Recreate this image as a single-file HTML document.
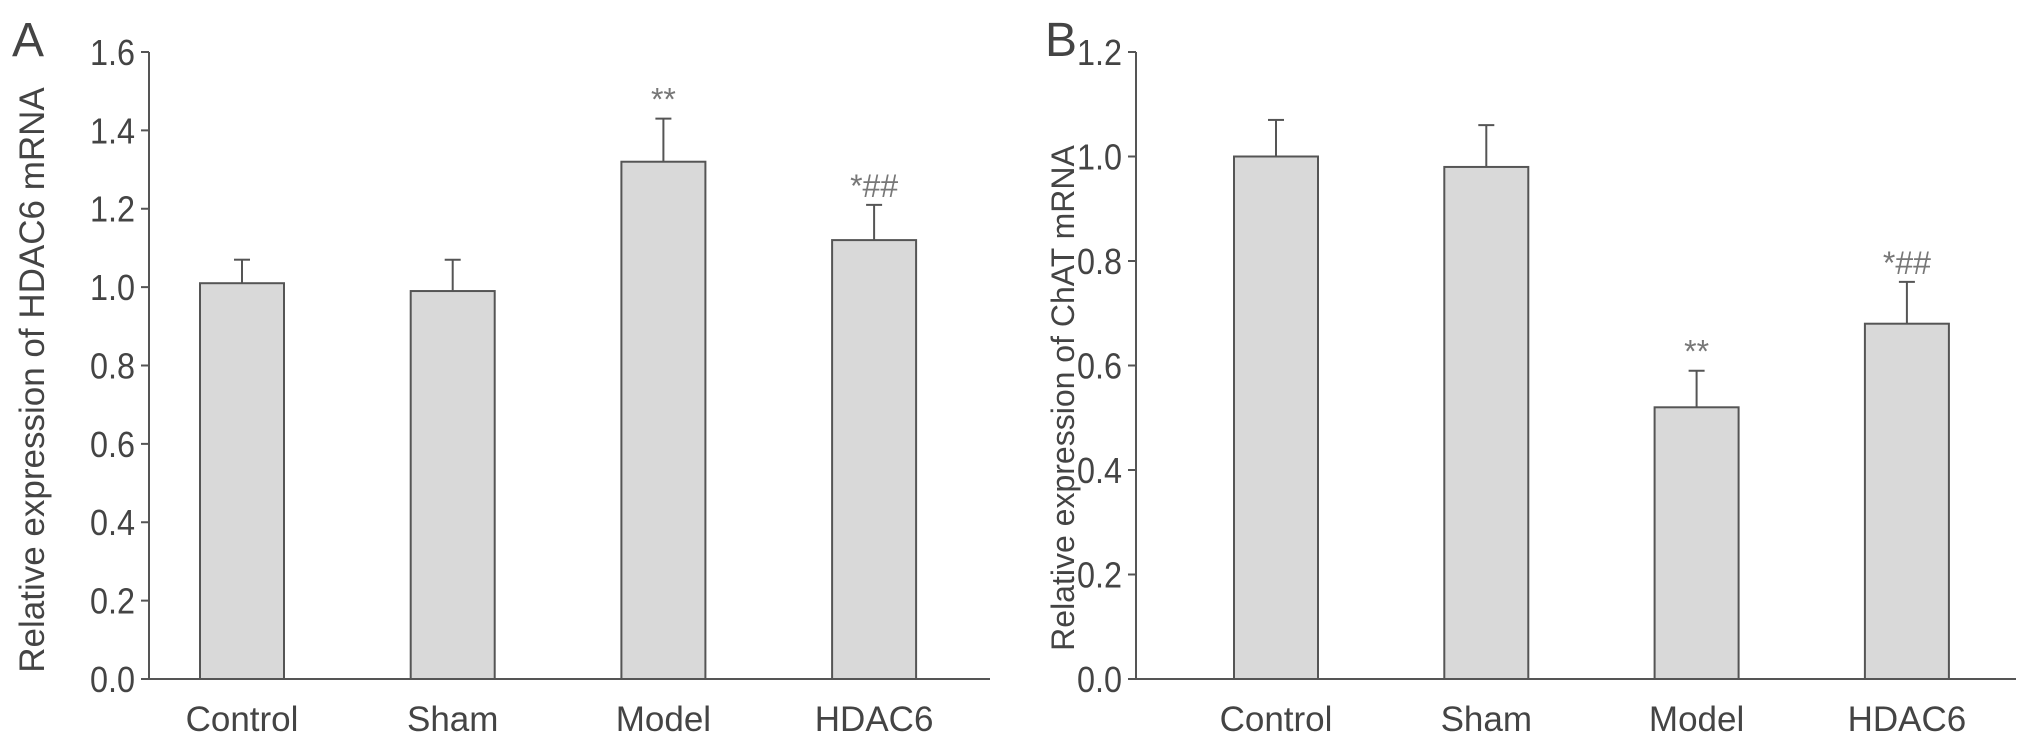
<!DOCTYPE html>
<html><head><meta charset="utf-8"><style>
html,body{margin:0;padding:0;background:#fff;}
svg text{font-family:"Liberation Sans",sans-serif;fill:#444;}
</style></head><body>
<svg id="chart" width="2031" height="741" xmlns="http://www.w3.org/2000/svg"></svg>
<script>
const categories = ["Control","Sham","Model","HDAC6"];
const valuesA = [1.01,0.99,1.32,1.12];
const errorsA = [0.06,0.08,0.11,0.09];
const marksA = ["","","**","*##"];
const ticksA = [0,0.2,0.4,0.6,0.8,1.0,1.2,1.4,1.6];
const valuesB = [1.00,0.98,0.52,0.68];
const errorsB = [0.07,0.08,0.07,0.08];
const marksB = ["","","**","*##"];
const ticksB = [0,0.2,0.4,0.6,0.8,1.0,1.2];

const svg = document.getElementById('chart');
const NS = 'http://www.w3.org/2000/svg';
function mk(tag, attrs, parent){
  const e = document.createElementNS(NS, tag);
  for (const k in attrs) e.setAttribute(k, attrs[k]);
  (parent||svg).appendChild(e);
  return e;
}
function panel(cfg){
  const g = mk('g', {});
  
  
  const y = v => cfg.y0 - (v / cfg.max) * (cfg.y0 - cfg.yTop);
  const bx = i => cfg.firstCx + i * cfg.step;
  const ax = mk('line', {x1:cfg.ax, y1:cfg.yTop, x2:cfg.ax, y2:cfg.y0, stroke:'#555', 'stroke-width':2}, g);
  
  
  const xa = mk('line', {x1:cfg.ax, y1:cfg.y0, x2:cfg.xEnd, y2:cfg.y0, stroke:'#555', 'stroke-width':2}, g);
  
  
  cfg.ticks.forEach(t => {
    mk('line', {x1:cfg.ax-8, y1:y(t), x2:cfg.ax, y2:y(t), stroke:'#555', 'stroke-width':2}, g);
    const tl = mk('text', {x:cfg.ax-14, y:y(t)+13, 'font-size':36, 'text-anchor':'end', transform:`translate(${cfg.ax-14},0) scale(0.9,1) translate(${-(cfg.ax-14)},0)`}, g);
    tl.textContent = t.toFixed(1);
    
    
  });
  cfg.values.forEach((v, i) => {
    const cx = bx(i);
    const top = y(v + cfg.errors[i]);
    mk('line', {x1:cx, y1:y(v), x2:cx, y2:top, stroke:'#555', 'stroke-width':2}, g);
    mk('line', {x1:cx-8, y1:top, x2:cx+8, y2:top, stroke:'#555', 'stroke-width':2}, g);
    const r = mk('rect', {x:cx-cfg.bw/2, y:y(v), width:cfg.bw, height:cfg.y0-y(v), fill:'#d9d9d9', stroke:'#555', 'stroke-width':2}, g);
    
    
    const cl = mk('text', {x:cx, y:cfg.y0+52, 'font-size':35, 'text-anchor':'middle'}, g);
    cl.textContent = categories[i];
    
    
    if (cfg.marks[i]) {
      const m = mk('text', {x:cx, y:top-8, 'font-size':32, 'text-anchor':'middle', style:'fill:#777'}, g);
      m.textContent = cfg.marks[i];
      
      
    }
  });
  const tt = mk('text', {x:0, y:0, 'font-size':cfg.titleSize, 'text-anchor':'middle', transform:`translate(${cfg.titleX},${cfg.titleY}) rotate(-90)`}, g);
  tt.textContent = cfg.title;
  
  
  const pl = mk('text', {x:cfg.letterX, y:56, 'font-size':48}, g);
  pl.textContent = cfg.letter;
  
  
}
panel({name:'panel-a', ax:149, xEnd:990, y0:679, yTop:52, max:1.6, firstCx:242, step:210.7, bw:84,
  values:valuesA, errors:errorsA, marks:marksA, ticks:ticksA, title:'Relative expression of HDAC6 mRNA', titleX:44, titleY:380, titleSize:35, letter:'A', letterX:12});
panel({name:'panel-b', ax:1136, xEnd:2016, y0:679, yTop:52, max:1.2, firstCx:1276, step:210.3, bw:84,
  values:valuesB, errors:errorsB, marks:marksB, ticks:ticksB, title:'Relative expression of ChAT mRNA', titleX:1074, titleY:398, titleSize:32, letter:'B', letterX:1045});
</script>
</body></html>
